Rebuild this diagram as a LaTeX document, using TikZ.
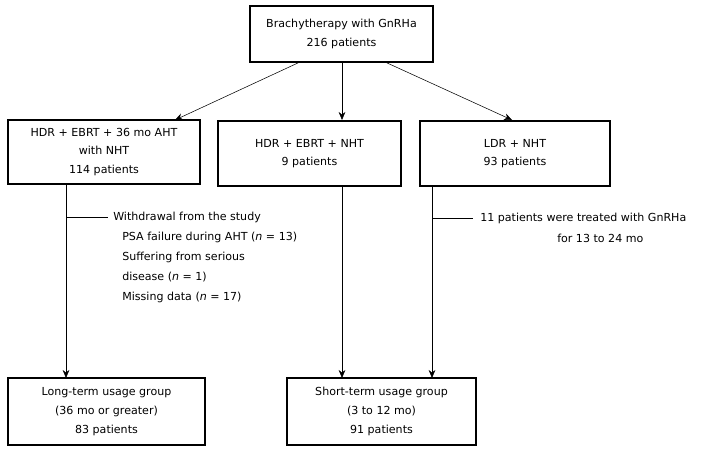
\documentclass[tikz,border=0pt]{standalone}
\usepackage{fontspec}
\setmainfont{DejaVu Sans}
\usetikzlibrary{arrows.meta}
\begin{document}
\begin{tikzpicture}[x=0.75pt,y=-0.75pt,
  box/.style={draw,thick,align=center,font=\fontsize{8.3}{14}\selectfont,inner sep=0pt},
  arr/.style={draw,-{Stealth[length=6pt,width=5pt]}},
  lbl/.style={anchor=west,font=\fontsize{8.3}{10}\selectfont,inner sep=0pt}]
\useasboundingbox (0,0) rectangle (707,452);
\node[box,minimum width=183*0.75pt,minimum height=56*0.75pt] (top) at (341.5,34) {Brachytherapy with GnRHa\\216 patients};
\node[box,minimum width=192*0.75pt,minimum height=64*0.75pt] (b1) at (104,152) {HDR + EBRT + 36 mo AHT\\with NHT\\114 patients};
\node[box,minimum width=183*0.75pt,minimum height=65*0.75pt] (b2) at (309.5,153.5) {HDR + EBRT + NHT\\9 patients};
\node[box,minimum width=190*0.75pt,minimum height=65*0.75pt] (b3) at (515,153.5) {LDR + NHT\\93 patients};
\node[box,minimum width=197*0.75pt,minimum height=67*0.75pt] (l) at (106.5,411.5) {Long-term usage group\\(36 mo or greater)\\83 patients};
\node[box,minimum width=189*0.75pt,minimum height=67*0.75pt] (s) at (381.5,411.5) {Short-term usage group\\(3 to 12 mo)\\91 patients};
\draw[arr] (300,62) -- (175,120);
\draw[arr] (342,62) -- (342,120);
\draw[arr] (385,62) -- (512,120);
\draw[arr] (66,184) -- (66,378);
\draw[arr] (342,186) -- (342,378);
\draw[arr] (432,186) -- (432,378);
\coordinate (w) at (108,217);
\draw (66,217) -- (w);
\node[lbl] (t1) at (113,217) {Withdrawal from the study};
\node[lbl] (t2) at (122,237) {PSA failure during AHT (\textit{n} = 13)};
\node[lbl] (t3) at (122,257) {Suffering from serious};
\node[lbl] (t4) at (122,277) {disease (\textit{n} = 1)};
\node[lbl] (t5) at (122,297) {Missing data (\textit{n} = 17)};
\coordinate (e) at (473,218);
\draw (432,218) -- (e);
\node[lbl] (u1) at (480,218) {11 patients were treated with GnRHa};
\node[lbl] (u2) at (557,238) {for 13 to 24 mo};
\end{tikzpicture}
\end{document}
